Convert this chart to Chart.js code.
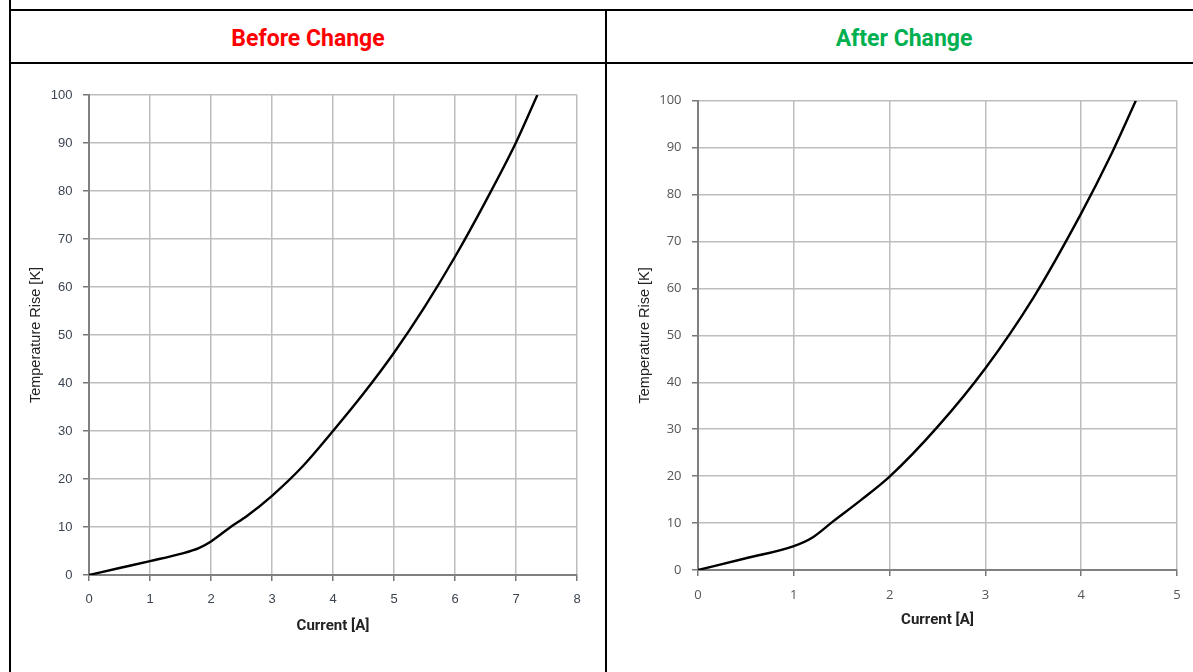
<!DOCTYPE html>
<html>
<head>
<meta charset="utf-8">
<script src="https://cdn.jsdelivr.net/npm/chart.js@4"></script>
<style>
  html, body { margin: 0; padding: 0; background: #fff; width: 1193px; height: 672px; overflow: hidden; }
  .line { position: absolute; background: #000; }
  .head { position: absolute; top: 20px; height: 38px; line-height: 38px; text-align: center;
          font-family: Roboto, "Noto Sans", sans-serif; font-weight: 700; font-size: 23px; }
  canvas { position: absolute; }
</style>
</head>
<body>
<div class="line" style="left:9px;top:0;width:2px;height:672px"></div>
<div class="line" style="left:9px;top:9px;width:1184px;height:2px"></div>
<div class="line" style="left:9px;top:62px;width:1184px;height:2px"></div>
<div class="line" style="left:605px;top:9px;width:2px;height:663px"></div>
<div class="head" id="h1" style="left:11px;width:594px;color:#ff0000"></div>
<div class="head" id="h2" style="left:607px;width:594px;color:#00b050"></div>
<canvas id="c1" width="592" height="607" style="left:12px;top:65px"></canvas>
<canvas id="c2" width="585" height="607" style="left:608px;top:65px"></canvas>
<script>
const headings = ["Before Change", "After Change"];
const xTitle = "Current [A]";
const yTitle = "Temperature Rise [K]";

const beforeCurrent = [0, 0.5, 1, 1.5, 1.8, 2, 2.3, 2.6, 3, 3.5, 4, 4.5, 5, 5.5, 6, 6.5, 7, 7.35];
const beforeTemp    = [0, 1.45, 2.9, 4.4, 5.6, 7, 9.8, 12.4, 16.5, 22.6, 30, 37.8, 46.3, 55.8, 66.3, 77.8, 90.1, 100];
const beforeXMax = 8;

const afterCurrent = [0, 0.5, 1, 1.2, 1.4, 1.7, 2, 2.5, 3, 3.5, 4, 4.3, 4.57];
const afterTemp    = [0, 2.5, 5.1, 7.0, 10.2, 14.9, 19.9, 30.5, 43, 58, 76, 88, 100];
const afterXMax = 5;

const yMax = 100;

document.getElementById('h1').textContent = headings[0];
document.getElementById('h2').textContent = headings[1];

function makeChart(id, xs, ys, xMax, lay) {
  const pts = xs.map((x, i) => ({ x: x, y: ys[i] }));
  return new Chart(document.getElementById(id), {
    type: 'line',
    data: { datasets: [{ data: pts, borderColor: '#000', borderWidth: 2.4, pointRadius: 0,
                         cubicInterpolationMode: 'monotone', fill: false }] },
    options: {
      responsive: false, animation: false,
      layout: { padding: { left: 0, right: lay.right, top: lay.top, bottom: 0 } },
      plugins: { legend: { display: false }, tooltip: { enabled: false } },
      scales: {
        x: {
          type: 'linear', min: 0, max: xMax,
          ticks: { stepSize: 1, color: lay.tickColor, padding: 11,
                   font: { family: lay.tickFont, size: 13 } },
          grid: { color: '#bdbdbd', lineWidth: 1.5, tickLength: 6, tickColor: '#777', tickWidth: 1.5 },
          border: { color: '#808080', width: 2 },
          title: { display: true, text: xTitle, color: '#222',
                   font: { family: 'Roboto', weight: '700', size: 15 },
                   padding: { top: 0, bottom: lay.xTitlePad } },
          afterFit: (s) => { s.height = lay.xh; }
        },
        y: {
          type: 'linear', min: 0, max: yMax,
          ticks: { stepSize: 10, color: lay.tickColor, padding: 10.5,
                   font: { family: lay.tickFont, size: 13 } },
          grid: { color: '#bdbdbd', lineWidth: 1.5, tickLength: 6, tickColor: '#777', tickWidth: 1.5 },
          border: { color: '#808080', width: 2 },
          title: { display: true, text: yTitle, color: '#222',
                   font: { family: '"Liberation Sans", Arial, sans-serif', size: 14.5 },
                   padding: { top: lay.yTitlePad, bottom: 0 } },
          afterFit: (s) => { s.width = lay.yw; }
        }
      }
    }
  });
}

makeChart('c1', beforeCurrent, beforeTemp, beforeXMax,
  { right: 27, top: 30, xh: 97, yw: 77, xTitlePad: 37, yTitlePad: 15.3,
    tickColor: '#3c4450', tickFont: '"Liberation Sans", Arial, sans-serif' });
makeChart('c2', afterCurrent, afterTemp, afterXMax,
  { right: 16, top: 35.7, xh: 102, yw: 90, xTitlePad: 43, yTitlePad: 28.3,
    tickColor: '#555', tickFont: '"Open Sans", sans-serif' });
</script>
</body>
</html>
